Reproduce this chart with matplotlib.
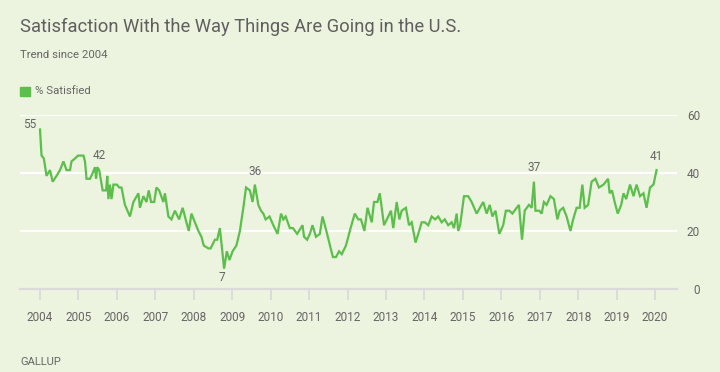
import matplotlib
matplotlib.use('Agg')
import matplotlib.pyplot as plt

# Gallup: % satisfied with the way things are going in the U.S. (decimal year, value)
dates = [
    2004.00, 2004.04, 2004.10, 2004.17, 2004.26, 2004.33, 2004.43, 2004.52, 2004.61, 2004.69,
    2004.78, 2004.82, 2004.91, 2004.99, 2005.13, 2005.17, 2005.21, 2005.30, 2005.37, 2005.43,
    2005.46, 2005.49, 2005.54, 2005.63, 2005.72, 2005.75, 2005.78, 2005.82, 2005.86, 2005.91,
    2006.00, 2006.06, 2006.12, 2006.21, 2006.34, 2006.43, 2006.56, 2006.60, 2006.69, 2006.77,
    2006.83, 2006.89, 2006.97, 2007.03, 2007.10, 2007.21, 2007.25, 2007.34, 2007.42, 2007.51,
    2007.62, 2007.71, 2007.77, 2007.87, 2007.94, 2008.03, 2008.12, 2008.20, 2008.26, 2008.38,
    2008.44, 2008.55, 2008.61, 2008.68, 2008.79, 2008.86, 2008.93, 2009.01, 2009.11, 2009.20,
    2009.29, 2009.36, 2009.46, 2009.53, 2009.59, 2009.68, 2009.75, 2009.81, 2009.87, 2009.97,
    2010.07, 2010.18, 2010.27, 2010.33, 2010.39, 2010.50, 2010.58, 2010.69, 2010.83, 2010.87,
    2010.95, 2011.02, 2011.09, 2011.18, 2011.28, 2011.35, 2011.45, 2011.62, 2011.70, 2011.78,
    2011.85, 2011.96, 2012.08, 2012.19, 2012.28, 2012.35, 2012.44, 2012.52, 2012.63, 2012.69,
    2012.78, 2012.84, 2012.95, 2013.06, 2013.13, 2013.19, 2013.28, 2013.35, 2013.41, 2013.52,
    2013.60, 2013.67, 2013.77, 2013.84, 2013.93, 2014.01, 2014.10, 2014.19, 2014.28, 2014.36,
    2014.45, 2014.53, 2014.62, 2014.71, 2014.77, 2014.84, 2014.88, 2014.93, 2015.03, 2015.14,
    2015.23, 2015.36, 2015.53, 2015.62, 2015.70, 2015.77, 2015.85, 2015.95, 2016.05, 2016.12,
    2016.21, 2016.29, 2016.40, 2016.46, 2016.54, 2016.61, 2016.72, 2016.79, 2016.85, 2016.89,
    2016.99, 2017.05, 2017.11, 2017.18, 2017.28, 2017.37, 2017.46, 2017.52, 2017.61, 2017.70,
    2017.80, 2017.87, 2017.96, 2018.04, 2018.11, 2018.17, 2018.26, 2018.35, 2018.45, 2018.54,
    2018.66, 2018.78, 2018.82, 2018.88, 2018.95, 2019.03, 2019.12, 2019.18, 2019.25, 2019.35,
    2019.44, 2019.52, 2019.61, 2019.70, 2019.78, 2019.87, 2019.96, 2020.04,
]
satisfied = [
    55, 46, 45, 39, 41, 37, 39, 41, 44, 41,
    41, 44, 45, 46, 46, 44, 38, 38, 40, 42,
    38, 42, 41, 34, 34, 39, 31, 36, 31, 36,
    36, 35, 35, 29, 25, 30, 33, 28, 32, 30,
    34, 30, 30, 35, 34, 30, 33, 25, 24, 27,
    24, 28, 25, 20, 26, 23, 20, 18, 15, 14,
    14, 17, 17, 21, 7, 13, 10, 13, 15, 20,
    28, 35, 34, 30, 36, 29, 27, 26, 24, 25,
    22, 19, 26, 24, 25, 21, 21, 19, 22, 18,
    17, 19, 22, 18, 19, 25, 20, 11, 11, 13,
    12, 15, 21, 26, 24, 24, 20, 28, 23, 30,
    30, 33, 22, 25, 27, 21, 30, 24, 27, 28,
    22, 23, 16, 19, 23, 23, 22, 25, 24, 25,
    23, 24, 22, 23, 21, 26, 20, 22, 32, 32,
    30, 26, 30, 26, 29, 25, 27, 19, 22, 27,
    27, 26, 28, 29, 17, 27, 29, 28, 37, 27,
    27, 26, 30, 29, 32, 31, 24, 27, 28, 25,
    20, 24, 28, 28, 36, 28, 29, 37, 38, 35,
    36, 38, 33, 34, 30, 26, 29, 33, 31, 36,
    32, 36, 32, 33, 28, 35, 36, 41,
]

# labelled points: (index into series, label text, dx px, dy px, ha)
callouts = [(0, '55', -4, 5, 'right'), (19, '42', 4, 12, 'center'),
            (74, '36', 0, 13, 'center'), (64, '7', -2, -9, 'center'),
            (158, '37', 0, 14, 'center'), (len(satisfied) - 1, '41', 0, 14, 'center')]

year_ticks = list(range(2004, 2021))
y_ticks = [0, 20, 40, 60]

bg = '#ecf3de'
green = '#5cbf4c'
txt = '#666666'
plt.rcParams['font.family'] = ['Roboto', 'DejaVu Sans']

fig = plt.figure(figsize=(7.2, 3.72), dpi=100, facecolor=bg)
ax = fig.add_axes([20 / 720, 83 / 372, 657 / 720, 174 / 372], facecolor=bg)

ax.plot(dates, satisfied, color=green, lw=1.6, solid_joinstyle='miter', zorder=3)

ax.set_xlim(2004 - 20 / 38.45, 2020 + 22 / 38.45)
ax.set_ylim(0, 60)
for s in ['top', 'left', 'right']:
    ax.spines[s].set_visible(False)
ax.spines['bottom'].set_color('#dadada')
ax.spines['bottom'].set_linewidth(1.6)

for v in y_ticks[1:]:
    ax.axhline(v, color='white', lw=1.6, zorder=1)

ax.set_xticks(year_ticks)
ax.set_xticklabels([str(y) for y in year_ticks])
ax.tick_params(axis='x', length=8, width=1.3, color='#dadada', pad=8,
               labelsize=8.5, labelcolor=txt)

ax.yaxis.tick_right()
ax.set_yticks(y_ticks)
ax.tick_params(axis='y', length=0, pad=16.5, labelsize=8.5, labelcolor=txt)
for lab in ax.get_yticklabels():
    lab.set_horizontalalignment('right')

for i, label, dx, dy, ha in callouts:
    ax.annotate(label, (dates[i], satisfied[i]), xytext=(dx * 0.72, dy * 0.72),
                textcoords='offset points', ha=ha, va='center', fontsize=8.5,
                color=txt, annotation_clip=False)

fig.text(20 / 720, 1 - 27 / 372, 'Satisfaction With the Way Things Are Going in the U.S.',
         fontsize=13.2, color='#5f5f5f', va='center', ha='left')
fig.text(20 / 720, 1 - 55 / 372, 'Trend since 2004', fontsize=8.2, color=txt,
         va='center', ha='left')
fig.patches.append(plt.Rectangle((20 / 720, 1 - 96 / 372), 9.5 / 720, 9.5 / 372,
                                 transform=fig.transFigure, color=green, figure=fig))
fig.text(35 / 720, 1 - 90.5 / 372, '% Satisfied', fontsize=8.2, color=txt,
         va='center', ha='left')
fig.text(20 / 720, 1 - 362 / 372, 'GALLUP', fontsize=8, color=txt, va='center',
         ha='left')

fig.savefig('out.png', dpi=100, facecolor=bg)
